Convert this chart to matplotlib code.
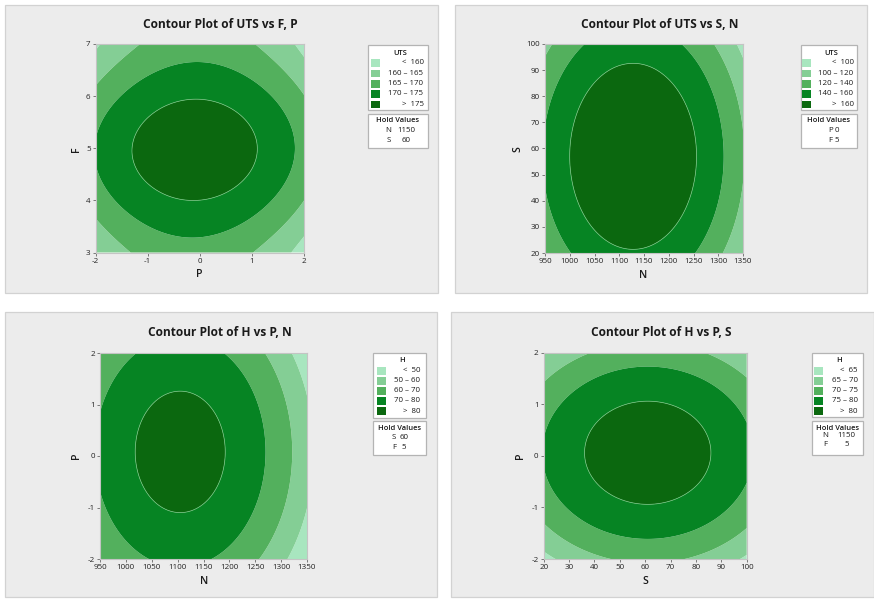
import numpy as np
import matplotlib
matplotlib.use("Agg")
import matplotlib.pyplot as plt
from matplotlib.patches import Rectangle

plt.rcParams['font.family'] = ['Open Sans', 'DejaVu Sans']
plt.rcParams['axes.unicode_minus'] = False

W, H = 874, 599
GREENS = ['#a8e6bf', '#84ce95', '#53b05d', '#068423', '#0b680f']

# ---------------- data: fitted response-surface readings per panel ----------------
# surface: z = peak - c[0]*dx^2 - c[1]*dy^2 + c[2]*dx*dy + q[0]*dx^4 + q[1]*dy^4
# Panel 1: UTS vs F (y), P (x); hold N=1150, S=60
uts_fp_levels = [160, 165, 170, 175]
uts_fp_center = [-0.10, 4.97]
uts_fp_peak = 178.2
uts_fp_curv = [2.21, 3.64, 0.12]
uts_fp_quart = [0.0, 0.264]

# Panel 2: UTS vs S (y), N (x); hold P=0, F=5
uts_sn_levels = [100, 120, 140, 160]
uts_sn_center = [1128.0, 57.0]
uts_sn_peak = 179.2
uts_sn_curv = [1.17e-3, 0.01515, 0.0]
uts_sn_quart = [0.0, 0.0]

# Panel 3: H vs P (y), N (x); hold S=60, F=5
h_pn_levels = [50, 60, 70, 80]
h_pn_center = [1105.0, 0.08]
h_pn_peak = 83.85
h_pn_curv = [5.09e-4, 2.77, 0.0]
h_pn_quart = [0.0, 0.0]

# Panel 4: H vs P (y), S (x); hold N=1150, F=5
h_ps_levels = [65, 70, 75, 80]
h_ps_center = [61.0, 0.06]
h_ps_peak = 82.79
h_ps_curv = [4.5e-3, 2.79, 0.0]
h_ps_quart = [0.0, 0.0]

# ---------------- helpers ----------------
fig = plt.figure(figsize=(W / 100, H / 100), dpi=100)
fig.patch.set_facecolor('white')


def frect(x0, y0, x1, y1):
    return [x0 / W, 1 - y1 / H, (x1 - x0) / W, (y1 - y0) / H]


def box(x0, y0, x1, y1, fc, ec, lw=0.8, z=0):
    fig.add_artist(Rectangle((x0 / W, 1 - y1 / H), (x1 - x0) / W, (y1 - y0) / H,
                             transform=fig.transFigure, facecolor=fc,
                             edgecolor=ec, lw=lw, zorder=z))


def ftext(x, y, s, **kw):
    kw.setdefault('color', '#1a1a1a')
    fig.text(x / W, 1 - y / H, s, **kw)


def surface(center, peak, curv, quart, xlim, ylim, n=400):
    gx = np.linspace(xlim[0], xlim[1], n)
    gy = np.linspace(ylim[0], ylim[1], n)
    X, Y = np.meshgrid(gx, gy)
    dx, dy = X - center[0], Y - center[1]
    Z = (peak - curv[0] * dx ** 2 - curv[1] * dy ** 2 + curv[2] * dx * dy
         + quart[0] * dx ** 4 + quart[1] * dy ** 4)
    return X, Y, Z


FS_LEG = 5.7


def panel(pbox, abox, title, txy, xlab, xlxy, ylab, ylxy,
          model, levels, xlim, ylim, xticks, yticks,
          lbox, lname, lrows, hbox, hold):
    box(*pbox, fc='#ececec', ec='#d2d2d2', lw=0.9, z=0)
    ax = fig.add_axes(frect(*abox))
    X, Y, Z = surface(*model, xlim, ylim)
    lv = [-1e9] + list(levels) + [1e9]
    ax.contourf(X, Y, Z, levels=lv, colors=GREENS, antialiased=True)
    ax.contour(X, Y, Z, levels=[levels[-1]], colors=['#74c582'], linewidths=0.5)
    ax.set_xlim(*xlim)
    ax.set_ylim(*ylim)
    ax.set_xticks(xticks)
    ax.set_yticks(yticks)
    ax.set_xticklabels([str(t) for t in xticks])
    ax.set_yticklabels([str(t) for t in yticks])
    ax.tick_params(direction='out', length=2.5, width=0.6, color='#666666',
                   labelsize=5.8, labelcolor='#222222', pad=1.2)
    for s in ax.spines.values():
        s.set_color('#c4c4c4')
        s.set_linewidth(0.8)
    ftext(txy[0], txy[1], title, ha='center', va='center', fontsize=8.6,
          fontweight='bold')
    ftext(xlxy[0], xlxy[1], xlab, ha='center', va='center', fontsize=7.6,
          fontweight='semibold')
    ftext(ylxy[0], ylxy[1], ylab, ha='center', va='center', fontsize=7.6,
          fontweight='semibold', rotation=90)

    # legend box
    x0, y0, x1, y1, rnx, sw0, rows_y, head_y = lbox
    box(x0, y0, x1, y1, fc='white', ec='#b4b4b4', lw=0.9, z=5)
    ftext((x0 + x1) / 2 + 2, head_y, lname, ha='center', va='center',
          fontsize=FS_LEG - 0.3, fontweight='semibold', zorder=6)
    for i, (ry, lab) in enumerate(zip(rows_y, lrows)):
        box(sw0, ry - 3.8, sw0 + 9, ry + 3.8, fc=GREENS[i], ec='none', lw=0, z=6)
        ftext(rnx, ry, lab, ha='right', va='center', fontsize=FS_LEG, zorder=6)

    # hold values box
    hx0, hy0, hx1, hy1, kx, vx, hrows = hbox
    box(hx0, hy0, hx1, hy1, fc='white', ec='#b4b4b4', lw=0.9, z=5)
    ftext((hx0 + hx1) / 2, hy0 + 7, 'Hold Values', ha='center', va='center',
          fontsize=FS_LEG - 0.3, fontweight='semibold', zorder=6)
    for (k, val), hy in zip(hold, hrows):
        ftext(kx, hy, k, ha='center', va='center', fontsize=FS_LEG, zorder=6)
        ftext(vx, hy, val, ha='center', va='center', fontsize=FS_LEG, zorder=6)
    return ax


def rows_for(levels):
    r = ['<  %d' % levels[0]]
    for a, b in zip(levels[:-1], levels[1:]):
        r.append('%d \u2013 %d' % (a, b))
    r.append('>  %d' % levels[-1])
    return r


ROWS_TOP = [63, 73.3, 83.7, 93.7, 104.3]
ROWS_BOT = [370.7, 380.7, 390.7, 400.7, 411.2]

# Panel 1
panel((5, 5, 438, 293), (95.7, 44, 304, 252.5),
      'Contour Plot of UTS vs F, P', (220, 25), 'P', (199, 275), 'F', (76, 149),
      (uts_fp_center, uts_fp_peak, uts_fp_curv, uts_fp_quart), uts_fp_levels,
      (-2, 2), (3, 7), [-2, -1, 0, 1, 2], [3, 4, 5, 6, 7],
      (368, 45, 428, 110, 423.5, 370.7, ROWS_TOP, 53.3), 'UTS',
      rows_for(uts_fp_levels),
      (368, 114, 428, 148, 388.5, 406.5, [130.5, 140.5]),
      [('N', '1150'), ('S', '60')])

# Panel 2
panel((455, 5, 867, 293), (545, 44, 743, 253),
      'Contour Plot of UTS vs S, N', (660, 25), 'N', (643, 276), 'S', (518, 149),
      (uts_sn_center, uts_sn_peak, uts_sn_curv, uts_sn_quart), uts_sn_levels,
      (950, 1350), (20, 100),
      [950, 1000, 1050, 1100, 1150, 1200, 1250, 1300, 1350],
      [20, 30, 40, 50, 60, 70, 80, 90, 100],
      (801, 45, 857, 110, 853.5, 802.3, ROWS_TOP, 53.3), 'UTS',
      rows_for(uts_sn_levels),
      (801, 114, 857, 148, 830.5, 836.7, [130.5, 140.5]),
      [('P', '0'), ('F', '5')])

# Panel 3
panel((5, 312, 437, 597), (100, 353, 307, 559),
      'Contour Plot of H vs P, N', (220, 333), 'N', (204, 582), 'P', (77, 456),
      (h_pn_center, h_pn_peak, h_pn_curv, h_pn_quart), h_pn_levels,
      (950, 1350), (-2, 2),
      [950, 1000, 1050, 1100, 1150, 1200, 1250, 1300, 1350],
      [-2, -1, 0, 1, 2],
      (373.3, 352.7, 426, 418.3, 420.5, 376.7, ROWS_BOT, 360.5), 'H',
      rows_for(h_pn_levels),
      (373.3, 421, 426, 455, 394, 404, [437.5, 447.3]),
      [('S', '60'), ('F', '5')])

# Panel 4
panel((451, 312, 874, 597), (543.7, 352.7, 746.7, 559),
      'Contour Plot of H vs P, S', (661, 333), 'S', (645, 582), 'P', (520, 456),
      (h_ps_center, h_ps_peak, h_ps_curv, h_ps_quart), h_ps_levels,
      (20, 100), (-2, 2),
      [20, 30, 40, 50, 60, 70, 80, 90, 100],
      [-2, -1, 0, 1, 2],
      (811.7, 352.7, 863.3, 416.5, 858, 814.3, ROWS_BOT, 360.5), 'H',
      rows_for(h_ps_levels),
      (811.7, 421, 863.3, 455, 825, 846.7, [435.5, 444.5]),
      [('N', '1150'), ('F', '5')])

fig.savefig('out.png', dpi=100, facecolor='white')
